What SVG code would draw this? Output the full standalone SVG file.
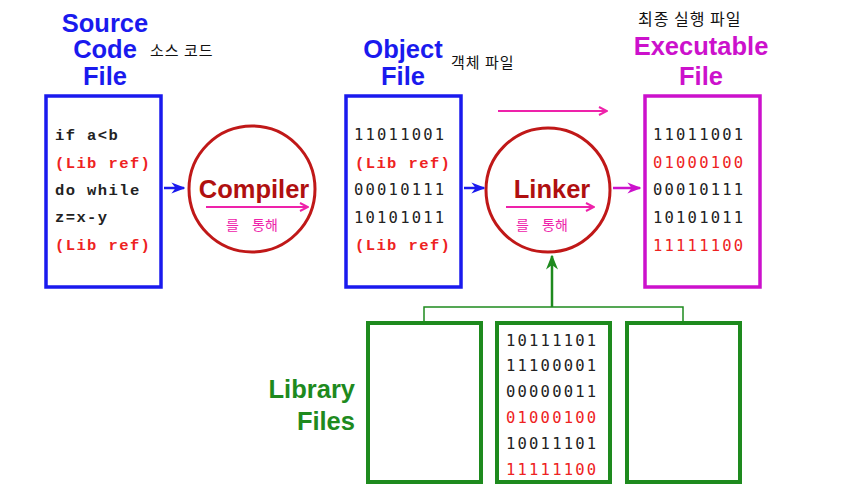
<svg xmlns="http://www.w3.org/2000/svg" width="852" height="497" viewBox="0 0 852 497">
<defs>
<style>
.title{font-family:"Liberation Sans",Arial,sans-serif;font-weight:bold;font-size:25.5px;text-anchor:middle}
.blue{fill:#1a1aee}
.mag{fill:#cc11cc}
.grn{fill:#1e8a1e}
.kor{font-family:"Noto Sans CJK KR",sans-serif;font-size:15px;fill:#111;letter-spacing:1px}
.code{font-family:"Liberation Mono","Courier New",monospace;font-weight:bold;font-size:15.5px;letter-spacing:1.4px}
.bin{font-family:"DejaVu Sans Mono",monospace;font-size:15.5px;letter-spacing:2.2px}
.blk{fill:#222}
.red{fill:#ee2222}
.circ{fill:none;stroke:#c01818;stroke-width:3}
.ctext{font-family:"Liberation Sans",Arial,sans-serif;font-weight:bold;font-size:25.5px;fill:#b01010;text-anchor:middle}
.pk{stroke:#ee22aa;stroke-width:2;fill:none}
.pkt{font-family:"Noto Sans CJK KR",sans-serif;font-size:14px;fill:#ee22aa}
</style>
<marker id="ab" viewBox="0 0 10 10" refX="9" refY="5" markerWidth="14" markerHeight="14" markerUnits="userSpaceOnUse" orient="auto"><path d="M0,1 L10,5 L0,9 L3,5 z" fill="#1a1aee"/></marker>
<marker id="am" viewBox="0 0 10 10" refX="9" refY="5" markerWidth="14" markerHeight="14" markerUnits="userSpaceOnUse" orient="auto"><path d="M0,1 L10,5 L0,9 L3,5 z" fill="#cc11cc"/></marker>
<marker id="ag" viewBox="0 0 10 10" refX="9" refY="5" markerWidth="15" markerHeight="15" markerUnits="userSpaceOnUse" orient="auto"><path d="M0,1 L10,5 L0,9 L3,5 z" fill="#1e8a1e"/></marker>
<marker id="ap" viewBox="0 0 10 10" refX="9" refY="5" markerWidth="10" markerHeight="10" markerUnits="userSpaceOnUse" orient="auto"><path d="M1,1 L9,5 L1,9" fill="none" stroke="#ee22aa" stroke-width="2"/></marker>
</defs>
<rect width="852" height="497" fill="#fff"/>

<g id="source">
<text class="title blue" x="105" y="32">Source</text>
<text class="title blue" x="105" y="58">Code</text>
<text class="title blue" x="105" y="85">File</text>
<text class="kor" x="150" y="56">소스 코드</text>
<rect x="46" y="96" width="115" height="191" fill="none" stroke="#1a1aee" stroke-width="3.5"/>
<text class="code blk" x="55" y="140">if a&lt;b</text>
<text class="code red" x="55" y="168">(Lib ref)</text>
<text class="code blk" x="55" y="195">do while</text>
<text class="code blk" x="55" y="222">z=x-y</text>
<text class="code red" x="55" y="250">(Lib ref)</text>
</g>

<g id="compiler">
<circle class="circ" cx="252" cy="189" r="63"/>
<text class="ctext" x="254" y="198">Compiler</text>
<line class="pk" x1="206" y1="207" x2="308" y2="207" marker-end="url(#ap)"/>
<text class="pkt" x="226" y="230" style="word-spacing:10px">를 통해</text>
</g>

<g id="object">
<text class="title blue" x="403" y="58">Object</text>
<text class="title blue" x="403" y="85">File</text>
<text class="kor" x="451" y="68">객체 파일</text>
<rect x="346" y="96" width="115" height="191" fill="none" stroke="#1a1aee" stroke-width="3.5"/>
<text class="bin blk" x="354" y="140">11011001</text>
<text class="code red" x="355" y="168">(Lib ref)</text>
<text class="bin blk" x="354" y="195">00010111</text>
<text class="bin blk" x="354" y="223">10101011</text>
<text class="code red" x="355" y="250">(Lib ref)</text>
</g>

<g id="linker">
<circle class="circ" cx="548" cy="190" r="62"/>
<text class="ctext" x="552" y="198">Linker</text>
<line class="pk" x1="506" y1="207" x2="594" y2="207" marker-end="url(#ap)"/>
<text class="pkt" x="516" y="230" style="word-spacing:10px">를 통해</text>
</g>

<g id="executable">
<text class="kor" x="638" y="25" style="font-size:16px">최종 실행 파일</text>
<text class="title mag" x="701" y="55">Executable</text>
<text class="title mag" x="701" y="85">File</text>
<rect x="645" y="96" width="115" height="191" fill="none" stroke="#cc11cc" stroke-width="3.5"/>
<text class="bin blk" x="653" y="140">11011001</text>
<text class="bin red" x="653" y="168">01000100</text>
<text class="bin blk" x="653" y="195">00010111</text>
<text class="bin blk" x="653" y="223">10101011</text>
<text class="bin red" x="653" y="251">11111100</text>
</g>

<g id="library">
<text class="title grn" x="355" y="398" style="text-anchor:end">Library</text>
<text class="title grn" x="355" y="430" style="text-anchor:end">Files</text>
<rect x="368" y="323" width="113" height="159" fill="none" stroke="#1e8a1e" stroke-width="4"/>
<rect x="497" y="323" width="113" height="159" fill="none" stroke="#1e8a1e" stroke-width="4"/>
<rect x="627" y="323" width="113" height="159" fill="none" stroke="#1e8a1e" stroke-width="4"/>
<text class="bin blk" x="506" y="346">10111101</text>
<text class="bin blk" x="506" y="371">11100001</text>
<text class="bin blk" x="506" y="397">00000011</text>
<text class="bin red" x="506" y="423">01000100</text>
<text class="bin blk" x="506" y="449">10011101</text>
<text class="bin red" x="506" y="475">11111100</text>
</g>

<g id="connectors">
<line x1="164" y1="188" x2="184" y2="188" stroke="#1a1aee" stroke-width="2.5" marker-end="url(#ab)"/>
<line x1="464" y1="188" x2="484" y2="188" stroke="#1a1aee" stroke-width="2.5" marker-end="url(#ab)"/>
<line x1="613" y1="188" x2="640" y2="188" stroke="#cc11cc" stroke-width="2.5" marker-end="url(#am)"/>
<line class="pk" x1="498" y1="111" x2="607" y2="111" marker-end="url(#ap)"/>
<path d="M424,321 V307 H683 V321" fill="none" stroke="#1e8a1e" stroke-width="1.5"/>
<line x1="552" y1="307" x2="552" y2="256" stroke="#1e8a1e" stroke-width="2.5" marker-end="url(#ag)"/>
</g>
</svg>
